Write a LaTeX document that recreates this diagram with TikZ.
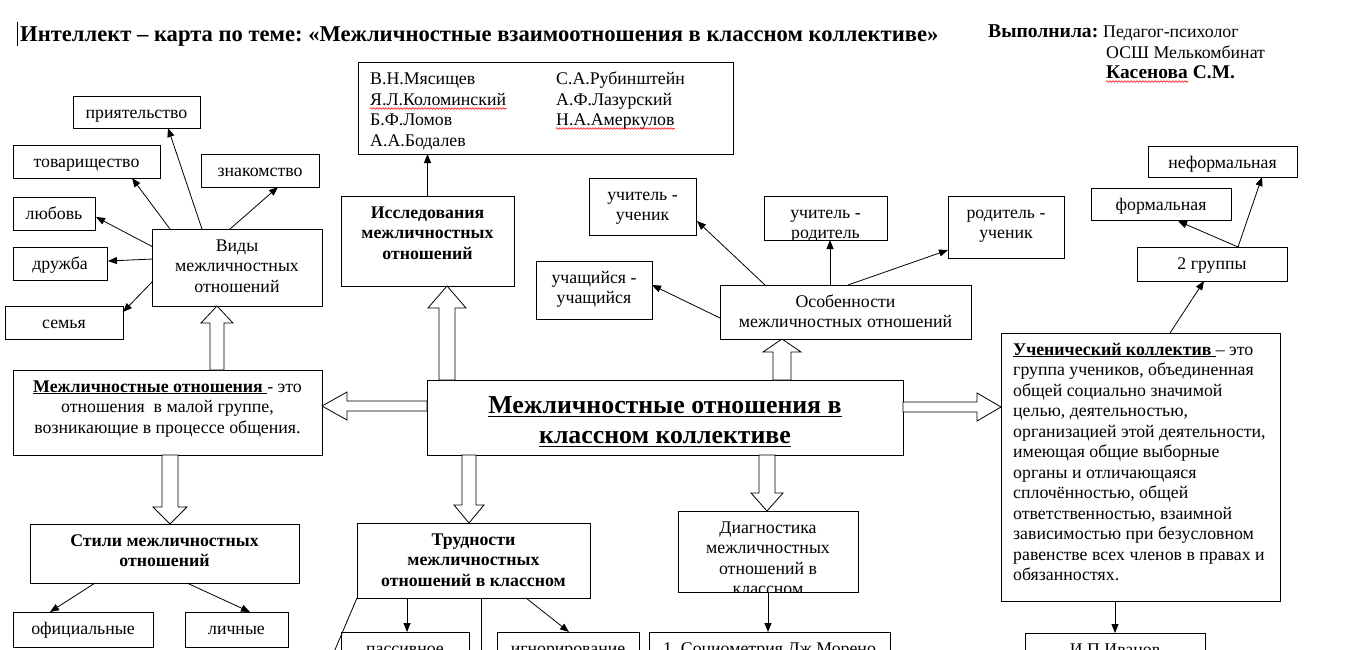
\documentclass[tikz,border=0pt]{standalone}
\usepackage{fontspec}
\setmainfont{Liberation Serif}
\usetikzlibrary{arrows.meta,calc,decorations.pathmorphing}
\newcommand{\bodyfont}{\fontsize{17.8}{20.5}\selectfont\frenchspacing}
\newcommand{\ulx}[2][2.2pt]{\setbox0\hbox{#2}\rlap{\rule[-#1]{\wd0}{1pt}}\box0}
% vertical hollow block arrow: x, tail, tip, shaft half, head half, head length
\newcommand{\blkV}[6]{%
  \path[blk] let \p1=(#2), \p2=(#3), \n1={sign(\y2-\y1)} in
   ({(#1-#4)*1pt},\y1) -- ({(#1-#4)*1pt},{\y2-\n1*#6pt}) -- ({(#1-#5)*1pt},{\y2-\n1*#6pt})
   -- ({#1*1pt},\y2) -- ({(#1+#5)*1pt},{\y2-\n1*#6pt}) -- ({(#1+#4)*1pt},{\y2-\n1*#6pt})
   -- ({(#1+#4)*1pt},\y1) -- cycle;}
% horizontal hollow block arrow: y, tail, tip, shaft half, head half, head length
\newcommand{\blkH}[6]{%
  \path[blk] let \p1=(#2), \p2=(#3), \n1={sign(\x2-\x1)} in
   (\x1,{-(#1-#4)*1pt}) -- ({\x2-\n1*#6pt},{-(#1-#4)*1pt}) -- ({\x2-\n1*#6pt},{-(#1-#5)*1pt})
   -- (\x2,{-#1*1pt}) -- ({\x2-\n1*#6pt},{-(#1+#5)*1pt}) -- ({\x2-\n1*#6pt},{-(#1+#4)*1pt})
   -- (\x1,{-(#1+#4)*1pt}) -- cycle;}
% text box with top-aligned, clipped text: [text opts]{name}{x}{y}{w}{h}{text}
\newcommand{\tbox}[7][]{%
  \node[box, minimum width=#5, minimum height=#6] (#2) at (#3,#4) {};
  \begin{scope}
    \clip (#2.north west) rectangle (#2.south east);
    \node[txt,#1] (#2t) at (#2.north) {\strut #7};
  \end{scope}}
\begin{document}
\frenchspacing
\begin{tikzpicture}[x=1pt,y=-1pt,
  font=\bodyfont,
  box/.style={draw, line width=0.9pt, inner sep=0pt, outer sep=0pt, anchor=north west},
  txt/.style={anchor=north, inner sep=0pt, align=center, yshift=-7.6pt},
  arr/.style={draw, line width=0.8pt, -{Triangle[length=9pt,width=7pt]}},
  ln/.style={draw, line width=0.8pt},
  blk/.style={draw, line width=0.8pt, fill=white},
  nm/.style={anchor=base west, inner sep=0pt},
  wavy/.style={draw=red, line width=0.6pt, decorate, decoration={snake, amplitude=0.8pt, segment length=3pt}},
]
\useasboundingbox (0,0) rectangle (1349,649);
\fill[white] (0,0) rectangle (1349,649);
\clip (0,0) rectangle (1349,649);

% header
\draw[line width=0.8pt] (17,22) -- (17,46);
\node[nm, font=\bfseries\fontsize{22.6}{26}\selectfont\frenchspacing] (title) at (20,41)
  {Интеллект – карта по теме: «Межличностные взаимоотношения в классном коллективе»};
\node[nm, font=\bfseries\fontsize{19.6}{22}\selectfont] (vyp) at (988,37) {Выполнила:};
\node[nm] (ped) at (1103,37) {Педагог-психолог};
\node[nm] (osh) at (1106,58) {ОСШ Мелькомбинат};
\node[nm, font=\bfseries\fontsize{19.4}{22}\selectfont] (kas1) at (1106,78) {Касенова};
\node[nm, font=\bfseries\fontsize{19.4}{22}\selectfont] (kas2) at ([xshift=4.8pt]kas1.base east) {С.М.};
\draw[wavy] ([yshift=-3.5pt]kas1.base west) -- ([yshift=-3.5pt]kas1.base east);

% authors
\node[box, minimum width=375, minimum height=92] (authors) at (358,62) {};
\node[nm] (a1) at (370,84) {В.Н.Мясищев};
\node[nm] (a2) at (370,105) {Я.Л.Коломинский};
\node[nm] (a3) at (370,125) {Б.Ф.Ломов};
\node[nm] (a4) at (370,146) {А.А.Бодалев};
\node[nm] (a5) at (556,84) {С.А.Рубинштейн};
\node[nm] (a6) at (556,105) {А.Ф.Лазурский};
\node[nm] (a7) at (556,125) {Н.А.Амеркулов};
\draw[wavy] ([yshift=-3.5pt]a2.base west) -- ([yshift=-3.5pt]a2.base east);
\draw[wavy] ([yshift=-3.5pt]a7.base west) -- ([yshift=-3.5pt]a7.base east);

% left cluster
\tbox{pr}{73}{96}{127}{32}{приятельство}
\tbox{tov}{13}{145}{147}{33}{товарищество}
\tbox{zn}{201}{154}{118}{33}{знакомство}
\tbox{lyub}{13}{197}{82}{33}{любовь}
\tbox{dru}{13}{247}{94}{33}{дружба}
\tbox{sem}{5}{306}{118}{33}{семья}
\tbox{vidy}{152}{229}{170}{77}{Виды\\межличностных\\отношений}

\draw[arr] ($(vidy.north west)+(1,18)$) -- ($(lyub.north east)+(1,20)$);
\draw[arr] ($(vidy.north west)+(1,30)$) -- ($(dru.north east)+(1,14)$);
\draw[arr] ($(vidy.north west)+(1,52)$) -- ($(sem.north east)+(0,6)$);
\draw[arr] ($(vidy.north west)+(18,0)$) -- ($(tov.south west)+(119,0)$);
\draw[arr] ($(vidy.north west)+(50,0)$) -- ($(pr.south west)+(95,0)$);
\draw[arr] ($(vidy.north west)+(78,0)$) -- ($(zn.south west)+(77,0)$);

\tbox{mo}{13}{370}{309}{85}{{\bfseries\ulx{Межличностные отношения }}- это\\отношения~ в малой группе,\\возникающие в процессе общения.}

\tbox[font=\bodyfont\bfseries]{stili}{30}{524}{269}{59}{Стили межличностных\\отношений}
\tbox{ofic}{13}{612}{140}{35}{официальные}
\tbox{lich}{185}{612}{103}{35}{личные}
\draw[arr] ($(stili.south west)+(65,0)$) -- ($(ofic.north west)+(37,0)$);
\draw[arr] ($(stili.south west)+(157,0)$) -- ($(lich.north west)+(65,0)$);

% research
\tbox[font=\bodyfont\bfseries]{issl}{341}{196}{173}{90}{Исследования\\межличностных\\отношений}
\draw[arr] (issl.north) -- (issl.north |- authors.south);

% centre
\tbox[font=\bfseries\fontsize{25.8}{29.7}\selectfont, yshift=-5.2pt]{main}{427}{380}{476}{75}
  {\ulx[3pt]{Межличностные отношения в}\\\ulx[3pt]{классном коллективе}}

% features
\tbox{osob}{720}{285}{251}{54}{Особенности\\межличностных отношений}
\tbox{uu}{536}{261}{116}{58}{учащийся -\\учащийся}
\tbox{ucu}{589}{178}{107}{57}{учитель -\\ученик}
\tbox{ucr}{764}{196}{123}{44}{учитель -\\родитель}
\tbox{ru}{948}{196}{116}{62}{родитель -\\ученик}
\draw[arr] ($(osob.north west)+(0,33)$) -- ($(uu.north east)+(0,24)$);
\draw[arr] ($(osob.north west)+(45,0)$) -- ($(ucu.north east)+(1,43)$);
\draw[arr] ($(osob.north west)+(110,0)$) -- ($(ucr.south west)+(66,0)$);
\draw[arr] ($(osob.north west)+(128,0)$) -- ($(ru.north west)+(0,54)$);

% pupils collective
\node[box, minimum width=279, minimum height=268] (uchen) at (1001,333) {};
\node[anchor=north west, inner sep=0pt, align=left] (uchtxt) at ([xshift=12pt,yshift=-7.6pt]uchen.north west)
  {\strut{\bfseries\ulx{Ученический коллектив }}– это\\
   группа учеников, объединенная\\
   общей социально значимой\\
   целью, деятельностью,\\
   организацией этой деятельности,\\
   имеющая общие выборные\\
   органы и отличающаяся\\
   сплочённостью, общей\\
   ответственностью, взаимной\\
   зависимостью при безусловном\\
   равенстве всех членов в правах и\\
   обязанностях.};
\tbox{gr}{1137}{247}{150}{34}{2 группы}
\tbox{form}{1091}{188}{140}{32}{формальная}
\tbox{neform}{1148}{146}{149}{31}{неформальная}
\draw[arr] ($(uchen.north west)+(169,0)$) -- ($(gr.south west)+(67,0)$);
\draw[arr] ($(gr.north west)+(101,0)$) -- ($(form.south west)+(87,1)$);
\draw[arr] ($(gr.north west)+(101,0)$) -- ($(neform.south west)+(114,0)$);
\tbox{ivan}{1025}{633}{180}{50}{И.П.Иванов}
\draw[arr] (ivan.north |- uchen.south) -- (ivan.north);

% difficulties
\tbox[font=\bodyfont\bfseries]{trud}{357}{523}{233}{75}{Трудности\\межличностных\\отношений в классном}
\tbox{pass}{341}{632}{128}{50}{пассивное}
\tbox{ign}{497}{632}{142}{50}{игнорирование}
\coordinate (trudend) at (334,652);
\coordinate (trudv) at (481,652);
\draw[ln] (trud.south west) -- (trudend);
\draw[ln] ($(trud.south west)+(124,0)$) -- (trudv);
\draw[arr] ($(trud.south west)+(50,0)$) -- ($(pass.north west)+(66,0)$);
\draw[arr] ($(trud.south west)+(169,0)$) -- ($(ign.north west)+(72,0)$);

% diagnostics
\tbox{diag}{678}{511}{180}{81}{Диагностика\\межличностных\\отношений в\\классном}
\tbox{socio}{649}{632}{241}{50}{1. Социометрия Дж.Морено}
\draw[arr] (diag.south) -- (diag.south |- socio.north);

% hollow block arrows
\blkV{217}{mo.north}{vidy.south}{7}{16}{17}
\blkV{447}{main.north}{issl.south}{8}{19}{22}
\blkV{782}{main.north}{osob.south}{9}{19}{13}
\blkH{406}{main.west}{mo.east}{5}{14}{25}
\blkH{407}{main.east}{uchen.west}{5}{14}{24}
\blkV{170}{mo.south}{stili.north}{8}{17}{17}
\blkV{469}{main.south}{trud.north}{7}{15}{18}
\blkV{767}{main.south}{diag.north}{8}{16}{18}
\end{tikzpicture}
\end{document}
